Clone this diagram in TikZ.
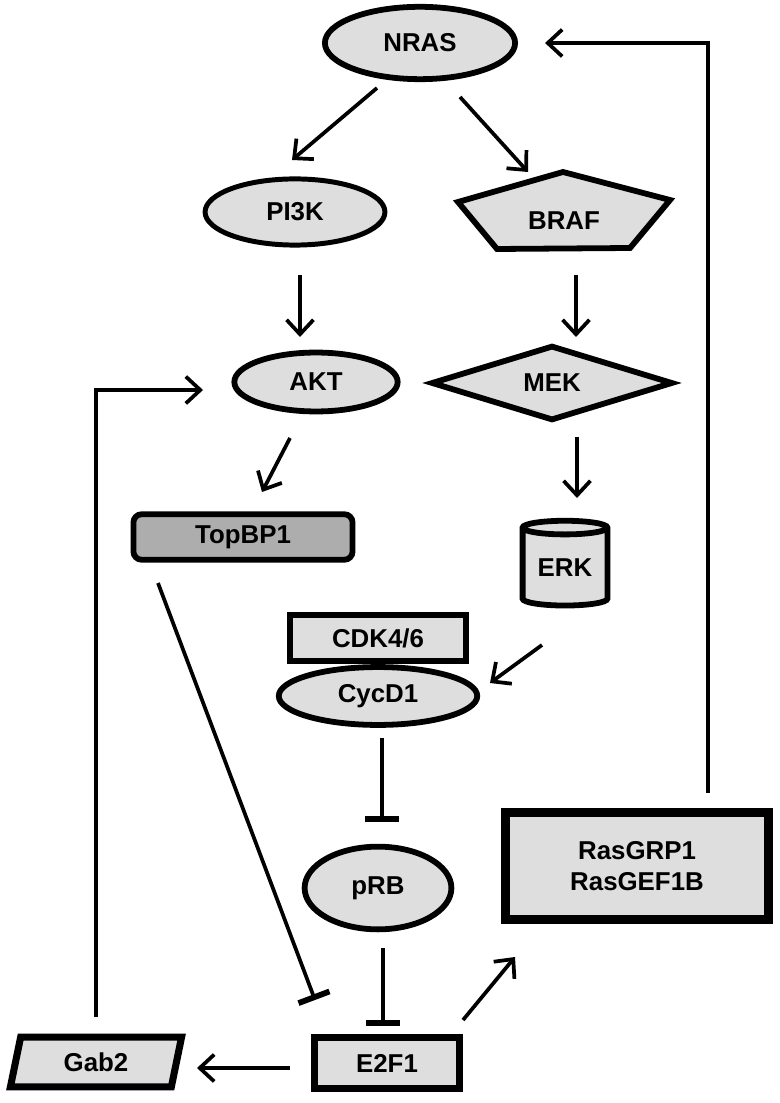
\documentclass[tikz,border=0pt]{standalone}
\usepackage{fontspec}
\setmainfont{Liberation Sans}
\usetikzlibrary{shapes.geometric,arrows.meta,shadows,backgrounds}
\definecolor{lightfill}{gray}{0.87}
\definecolor{darkfill}{gray}{0.68}
\begin{document}
\begin{tikzpicture}[x=0.017cm, y=-0.017cm,
	every node/.style = {align=center, inner sep=0pt,
		font=\fontsize{12.5}{15}\selectfont\bfseries},
	prot/.style = {draw, fill=lightfill, line width=2.8pt,
		drop shadow={opacity=0.25, shadow xshift=1pt, shadow yshift=-1pt}},
	oval/.style = {ellipse},
	act/.style = {line width=1.8pt, -{Straight Barb[length=7pt, width=13pt]}},
	inh/.style = {line width=1.8pt, -{Bar[width=16pt, line width=2.8pt]}}]
	\useasboundingbox (0,0) rectangle (779,1103);
	\node[prot, oval, minimum width=92pt, minimum height=35pt] (nras) at (420,43) {NRAS};
	\node[prot, oval, minimum width=87pt, minimum height=32pt, line width=2.4pt] (pi3k) at (295,212) {PI3K};
	\node (braf) at (564,221) {BRAF};
	\begin{scope}[on background layer]
		\draw[prot] ([shift={(-1,-49)}]braf.center) -- ([shift={(106,-21)}]braf.center)
			-- ([shift={(66,27)}]braf.center) -- ([shift={(-67,28)}]braf.center)
			-- ([shift={(-106,-19)}]braf.center) -- cycle;
	\end{scope}
	\node[prot, oval, minimum width=79pt, minimum height=28.5pt] (akt) at (316,382) {AKT};
	\node[prot, diamond, minimum width=117pt, minimum height=29pt] (mek) at (552,383) {MEK};
	\node[prot, rounded corners=4pt, fill=darkfill, minimum width=106pt, minimum height=22pt] (topbp1) at (243,537) {TopBP1};
	\node[prot, cylinder, shape border rotate=90, aspect=0.25, minimum width=41pt, minimum height=41pt] (erk) at (565,568) {ERK};
	\node[prot, minimum width=85pt, minimum height=22pt] (cdk) at (378,638) {CDK4/6};
	\node[prot, oval, minimum width=96pt, minimum height=28pt] (cycd1) at (378,696) {CycD1};
	\node[prot, oval, minimum width=71pt, minimum height=40pt] (prb) at (378,888) {pRB};
	\node[prot, minimum width=127pt, minimum height=52pt, line width=4.2pt] (ras) at (637,866) {RasGRP1\\RasGEF1B};
	\node[prot, minimum width=70pt, minimum height=25pt, line width=3.4pt] (e2f1) at (387,1063) {E2F1};
	\node[prot, trapezium, trapezium left angle=77, trapezium right angle=103, trapezium stretches=true,
		minimum width=83pt, minimum height=24pt, line width=3.4pt] (gab2) at (96,1062) {Gab2};
	\draw[act] ([shift={(-43,45)}]nras.center) -- ([shift={(-3,-52)}]pi3k.center);
	\draw[act] ([shift={(40,54)}]nras.center) -- ([shift={(-36,-49)}]braf.center);
	\draw[act] ([shift={(5,63)}]pi3k.center) -- ([shift={(-16,-45)}]akt.center);
	\draw[act] ([shift={(12,54)}]braf.center) -- ([shift={(24,-46)}]mek.center);
	\draw[act] ([shift={(-26,56)}]akt.center) -- ([shift={(19,-45)}]topbp1.center);
	\draw[act] ([shift={(25,54)}]mek.center) -- ([shift={(12,-70)}]erk.center);
	\draw[act] ([shift={(-23,77)}]erk.center) -- ([shift={(112,-13)}]cycd1.center);
	\draw[inh] ([shift={(4,42)}]cycd1.center) -- ([shift={(4,-66)}]prb.center);
	\draw[inh] ([shift={(5,60)}]prb.center) -- ([shift={(-4,-37)}]e2f1.center);
	\draw[inh] ([shift={(-85,46)}]topbp1.center) -- ([shift={(-72,-63)}]e2f1.center);
	\draw[act] ([shift={(-97,5)}]e2f1.center) -- ([shift={(101,6)}]gab2.center);
	\draw[act] ([shift={(76,-43)}]e2f1.center) -- ([shift={(-122,91)}]ras.center);
	\draw[act] ([shift={(71,-73)}]ras.center) |- ([shift={(125,0)}]nras.center);
	\draw[act] ([shift={(0,-45)}]gab2.center) |- ([shift={(-113,8)}]akt.center);
\end{tikzpicture}
\end{document}
